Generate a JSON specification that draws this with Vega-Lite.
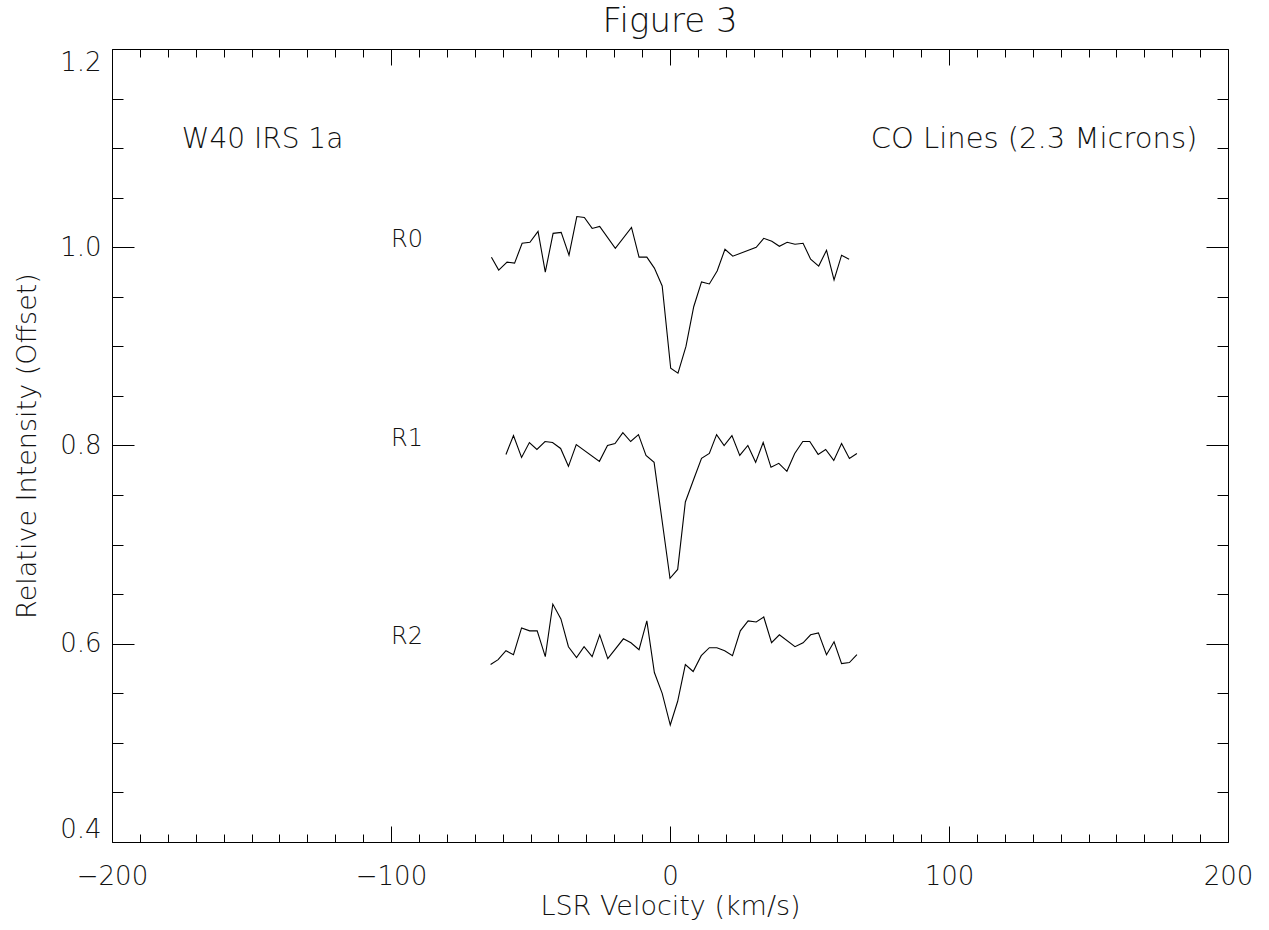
{
  "$schema": "https://vega.github.io/schema/vega-lite/v6.json",
  "width": 1116,
  "height": 793,
  "autosize": {"type": "none"},
  "padding": {"left": 112, "top": 49, "right": 41, "bottom": 88},
  "background": "white",
  "title": {"text": "Figure 3", "fontSize": 34, "font": "DejaVu Sans", "fontWeight": 200, "color": "#111", "baseline": "alphabetic", "offset": -17, "anchor": "middle"},
  "config": {
    "view": {"stroke": null},
    "axis": {"minExtent": 0, "labelFont": "DejaVu Sans", "labelFontWeight": 200, "labelFontSize": 26, "labelColor": "#111", "titleFont": "DejaVu Sans", "titleFontWeight": 200, "titleFontSize": 27, "titleColor": "#111", "grid": false, "domainColor": "#000", "tickColor": "#000", "domainWidth": 1, "tickWidth": 1},
    "text": {"font": "DejaVu Sans", "fontWeight": 200, "fontSize": 28, "color": "#111"}
  },
  "datasets": {
    "spectra": [
      {"series": "R0", "v": -64.0, "I": 0.990}, {"series": "R0", "v": -61.4, "I": 0.977}, {"series": "R0", "v": -58.4, "I": 0.985}, {"series": "R0", "v": -55.7, "I": 0.984}, {"series": "R0", "v": -53.0, "I": 1.004}, {"series": "R0", "v": -50.2, "I": 1.005}, {"series": "R0", "v": -47.3, "I": 1.016}, {"series": "R0", "v": -44.7, "I": 0.975}, {"series": "R0", "v": -41.9, "I": 1.014}, {"series": "R0", "v": -39.0, "I": 1.015}, {"series": "R0", "v": -36.2, "I": 0.992}, {"series": "R0", "v": -33.4, "I": 1.031}, {"series": "R0", "v": -30.7, "I": 1.030}, {"series": "R0", "v": -27.9, "I": 1.019}, {"series": "R0", "v": -25.2, "I": 1.021}, {"series": "R0", "v": -19.6, "I": 0.999}, {"series": "R0", "v": -13.8, "I": 1.020}, {"series": "R0", "v": -11.1, "I": 0.990}, {"series": "R0", "v": -8.3, "I": 0.990}, {"series": "R0", "v": -5.6, "I": 0.979}, {"series": "R0", "v": -2.8, "I": 0.961}, {"series": "R0", "v": 0.25, "I": 0.878}, {"series": "R0", "v": 2.86, "I": 0.873}, {"series": "R0", "v": 5.72, "I": 0.900}, {"series": "R0", "v": 8.5, "I": 0.940}, {"series": "R0", "v": 11.3, "I": 0.965}, {"series": "R0", "v": 14.1, "I": 0.963}, {"series": "R0", "v": 16.9, "I": 0.976}, {"series": "R0", "v": 19.7, "I": 0.998}, {"series": "R0", "v": 22.5, "I": 0.991}, {"series": "R0", "v": 30.9, "I": 1.000}, {"series": "R0", "v": 33.6, "I": 1.009}, {"series": "R0", "v": 36.5, "I": 1.006}, {"series": "R0", "v": 39.2, "I": 1.001}, {"series": "R0", "v": 42.0, "I": 1.005}, {"series": "R0", "v": 44.8, "I": 1.003}, {"series": "R0", "v": 47.7, "I": 1.004}, {"series": "R0", "v": 50.4, "I": 0.988}, {"series": "R0", "v": 53.3, "I": 0.981}, {"series": "R0", "v": 56.1, "I": 0.997}, {"series": "R0", "v": 58.8, "I": 0.967}, {"series": "R0", "v": 61.5, "I": 0.992}, {"series": "R0", "v": 64.2, "I": 0.988},
      {"series": "R1", "v": -58.8, "I": 0.791}, {"series": "R1", "v": -56.1, "I": 0.810}, {"series": "R1", "v": -53.2, "I": 0.788}, {"series": "R1", "v": -50.4, "I": 0.803}, {"series": "R1", "v": -47.7, "I": 0.796}, {"series": "R1", "v": -44.8, "I": 0.804}, {"series": "R1", "v": -42.1, "I": 0.803}, {"series": "R1", "v": -39.2, "I": 0.797}, {"series": "R1", "v": -36.4, "I": 0.779}, {"series": "R1", "v": -33.6, "I": 0.801}, {"series": "R1", "v": -25.3, "I": 0.784}, {"series": "R1", "v": -22.4, "I": 0.800}, {"series": "R1", "v": -19.7, "I": 0.802}, {"series": "R1", "v": -16.9, "I": 0.813}, {"series": "R1", "v": -14.1, "I": 0.804}, {"series": "R1", "v": -11.3, "I": 0.811}, {"series": "R1", "v": -8.6, "I": 0.790}, {"series": "R1", "v": -5.7, "I": 0.783}, {"series": "R1", "v": 0.0, "I": 0.666}, {"series": "R1", "v": 2.75, "I": 0.675}, {"series": "R1", "v": 5.5, "I": 0.743}, {"series": "R1", "v": 8.5, "I": 0.766}, {"series": "R1", "v": 11.3, "I": 0.787}, {"series": "R1", "v": 14.1, "I": 0.792}, {"series": "R1", "v": 16.7, "I": 0.811}, {"series": "R1", "v": 19.4, "I": 0.800}, {"series": "R1", "v": 22.2, "I": 0.810}, {"series": "R1", "v": 25.0, "I": 0.790}, {"series": "R1", "v": 27.9, "I": 0.800}, {"series": "R1", "v": 30.7, "I": 0.783}, {"series": "R1", "v": 33.4, "I": 0.803}, {"series": "R1", "v": 36.2, "I": 0.778}, {"series": "R1", "v": 39.0, "I": 0.782}, {"series": "R1", "v": 41.9, "I": 0.774}, {"series": "R1", "v": 44.7, "I": 0.792}, {"series": "R1", "v": 47.6, "I": 0.804}, {"series": "R1", "v": 50.1, "I": 0.804}, {"series": "R1", "v": 53.1, "I": 0.791}, {"series": "R1", "v": 55.8, "I": 0.796}, {"series": "R1", "v": 58.7, "I": 0.785}, {"series": "R1", "v": 61.5, "I": 0.802}, {"series": "R1", "v": 64.3, "I": 0.787}, {"series": "R1", "v": 67.0, "I": 0.792},
      {"series": "R2", "v": -64.3, "I": 0.579}, {"series": "R2", "v": -61.6, "I": 0.584}, {"series": "R2", "v": -58.8, "I": 0.593}, {"series": "R2", "v": -56.1, "I": 0.589}, {"series": "R2", "v": -53.2, "I": 0.616}, {"series": "R2", "v": -50.3, "I": 0.613}, {"series": "R2", "v": -47.6, "I": 0.613}, {"series": "R2", "v": -44.7, "I": 0.587}, {"series": "R2", "v": -42.0, "I": 0.640}, {"series": "R2", "v": -39.1, "I": 0.625}, {"series": "R2", "v": -36.4, "I": 0.597}, {"series": "R2", "v": -33.5, "I": 0.586}, {"series": "R2", "v": -30.8, "I": 0.597}, {"series": "R2", "v": -27.9, "I": 0.587}, {"series": "R2", "v": -25.2, "I": 0.609}, {"series": "R2", "v": -22.3, "I": 0.585}, {"series": "R2", "v": -16.7, "I": 0.605}, {"series": "R2", "v": -14.0, "I": 0.601}, {"series": "R2", "v": -11.1, "I": 0.594}, {"series": "R2", "v": -8.3, "I": 0.623}, {"series": "R2", "v": -5.6, "I": 0.571}, {"series": "R2", "v": -2.8, "I": 0.550}, {"series": "R2", "v": 0.1, "I": 0.518}, {"series": "R2", "v": 2.75, "I": 0.542}, {"series": "R2", "v": 5.5, "I": 0.579}, {"series": "R2", "v": 8.3, "I": 0.572}, {"series": "R2", "v": 11.2, "I": 0.588}, {"series": "R2", "v": 14.1, "I": 0.596}, {"series": "R2", "v": 16.8, "I": 0.596}, {"series": "R2", "v": 19.6, "I": 0.593}, {"series": "R2", "v": 22.4, "I": 0.588}, {"series": "R2", "v": 25.2, "I": 0.613}, {"series": "R2", "v": 28.0, "I": 0.623}, {"series": "R2", "v": 30.9, "I": 0.622}, {"series": "R2", "v": 33.6, "I": 0.627}, {"series": "R2", "v": 36.4, "I": 0.601}, {"series": "R2", "v": 39.2, "I": 0.609}, {"series": "R2", "v": 44.8, "I": 0.597}, {"series": "R2", "v": 47.7, "I": 0.601}, {"series": "R2", "v": 50.4, "I": 0.609}, {"series": "R2", "v": 53.2, "I": 0.611}, {"series": "R2", "v": 56.1, "I": 0.589}, {"series": "R2", "v": 58.8, "I": 0.602}, {"series": "R2", "v": 61.5, "I": 0.580}, {"series": "R2", "v": 64.3, "I": 0.581}, {"series": "R2", "v": 67.0, "I": 0.589}
    ],
    "rlabels": [
      {"v": -100, "I": 1.0, "label": "R0"},
      {"v": -100, "I": 0.8, "label": "R1"},
      {"v": -100, "I": 0.6, "label": "R2"}
    ],
    "leftnote": [{"v": -175, "I": 1.1, "label": "W40 IRS 1a"}],
    "rightnote": [{"v": 189, "I": 1.1, "label": "CO Lines (2.3 Microns)"}]
  },
  "resolve": {"axis": {"x": "independent", "y": "independent"}},
  "layer": [
    {
      "data": {"name": "spectra"},
      "mark": {"type": "line", "color": "#000", "strokeWidth": 1.1},
      "encoding": {
        "x": {"field": "v", "type": "quantitative", "scale": {"domain": [-200, 200], "nice": false, "zero": false},
              "axis": {"orient": "bottom", "values": [-200, -100, 0, 100, 200], "format": "d", "tickSize": -16, "labelPadding": 37, "labelFlush": false, "title": "LSR Velocity (km/s)", "titlePadding": 4}},
        "y": {"field": "I", "type": "quantitative", "scale": {"domain": [0.4, 1.2], "nice": false, "zero": false},
              "axis": {"orient": "left", "values": [0.4, 0.6, 0.8, 1.0, 1.2], "format": ".1f", "tickSize": -22, "labelPadding": 33, "labelFlush": true, "title": "Relative Intensity (Offset)", "titlePadding": 18}},
        "detail": {"field": "series"}
      }
    },
    {
      "data": {"name": "rlabels"},
      "mark": {"type": "text", "align": "left", "baseline": "alphabetic", "fontSize": 24},
      "encoding": {
        "x": {"field": "v", "type": "quantitative",
              "axis": {"orient": "bottom", "values": [-190, -180, -170, -160, -150, -140, -130, -120, -110, -90, -80, -70, -60, -50, -40, -30, -20, -10, 10, 20, 30, 40, 50, 60, 70, 80, 90, 110, 120, 130, 140, 150, 160, 170, 180, 190], "tickSize": -8, "labels": false, "domain": false, "title": null}},
        "y": {"field": "I", "type": "quantitative",
              "axis": {"orient": "left", "values": [0.45, 0.5, 0.55, 0.65, 0.7, 0.75, 0.85, 0.9, 0.95, 1.05, 1.1, 1.15], "tickSize": -11, "labels": false, "domain": false, "title": null}},
        "text": {"field": "label"}
      }
    },
    {
      "data": {"name": "leftnote"},
      "mark": {"type": "text", "align": "left", "baseline": "alphabetic"},
      "encoding": {
        "x": {"field": "v", "type": "quantitative",
              "axis": {"orient": "top", "values": [-200, -100, 0, 100, 200], "tickSize": -16, "labels": false, "domain": true, "title": null}},
        "y": {"field": "I", "type": "quantitative",
              "axis": {"orient": "right", "values": [0.4, 0.6, 0.8, 1.0, 1.2], "tickSize": -22, "labels": false, "domain": true, "title": null}},
        "text": {"field": "label"}
      }
    },
    {
      "data": {"name": "rightnote"},
      "mark": {"type": "text", "align": "right", "baseline": "alphabetic", "fontSize": 29},
      "encoding": {
        "x": {"field": "v", "type": "quantitative",
              "axis": {"orient": "top", "values": [-190, -180, -170, -160, -150, -140, -130, -120, -110, -90, -80, -70, -60, -50, -40, -30, -20, -10, 10, 20, 30, 40, 50, 60, 70, 80, 90, 110, 120, 130, 140, 150, 160, 170, 180, 190], "tickSize": -8, "labels": false, "domain": false, "title": null}},
        "y": {"field": "I", "type": "quantitative",
              "axis": {"orient": "right", "values": [0.45, 0.5, 0.55, 0.65, 0.7, 0.75, 0.85, 0.9, 0.95, 1.05, 1.1, 1.15], "tickSize": -11, "labels": false, "domain": false, "title": null}},
        "text": {"field": "label"}
      }
    }
  ]
}
